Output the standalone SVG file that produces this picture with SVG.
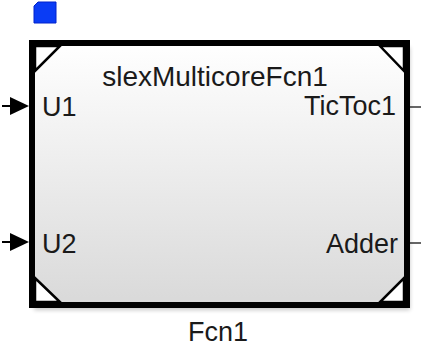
<svg xmlns="http://www.w3.org/2000/svg" width="421" height="346" viewBox="0 0 421 346">
<style>
text{font-family:"Liberation Sans",Arial,sans-serif;fill:#1a1a1a;font-size:27px}
.port{stroke:#000;stroke-width:2;fill:none}
.corner{stroke:#000;stroke-width:2.5;fill:#fff}
</style>
<defs>
<linearGradient id="bg" x1="0" y1="0" x2="0" y2="1">
<stop offset="0" stop-color="#ffffff"/>
<stop offset="1" stop-color="#d9d9d9"/>
</linearGradient>
<filter id="sh" x="-10%" y="-10%" width="130%" height="130%">
<feGaussianBlur stdDeviation="2"/>
</filter>
</defs>
<g id="badge">
<path d="M38 2 H56 V23 H34 V6 Z" fill="#0a3cf5" stroke="#0022cc" stroke-width="1"/>
</g>
<g id="Fcn1">
<rect x="34" y="47" width="376" height="263" fill="#000" opacity="0.22" filter="url(#sh)"/>
<rect x="32" y="43" width="375" height="262" fill="url(#bg)" stroke="#000" stroke-width="6"/>
<path class="corner" d="M35 46 H60 L35 71 Z" fill="none"/>
<path class="corner" d="M404 46 H380 L404 71 Z"/>
<path class="corner" d="M35 302 H60 L35 278 Z"/>
<path class="corner" d="M404 302 H380 L404 278 Z"/>
<text x="215" y="86" text-anchor="middle" style="font-size:28px">slexMulticoreFcn1</text>
<text x="42" y="116">U1</text>
<text x="42" y="253">U2</text>
<text x="396" y="115" text-anchor="end">TicToc1</text>
<text x="398" y="253" text-anchor="end">Adder</text>
<text x="218" y="341" text-anchor="middle">Fcn1</text>
</g>
<g id="connectors">
<line class="port" x1="2" y1="106" x2="12" y2="106"/>
<path d="M10 97 L29 106 L10 115 Z" fill="#000"/>
<line class="port" x1="2" y1="242" x2="12" y2="242"/>
<path d="M10 233 L29 242 L10 251 Z" fill="#000"/>
<line x1="410" y1="107" x2="421" y2="107" stroke="#000" stroke-width="1.2"/>
<line x1="410" y1="243" x2="421" y2="243" stroke="#000" stroke-width="1.2"/>
</g>
</svg>
